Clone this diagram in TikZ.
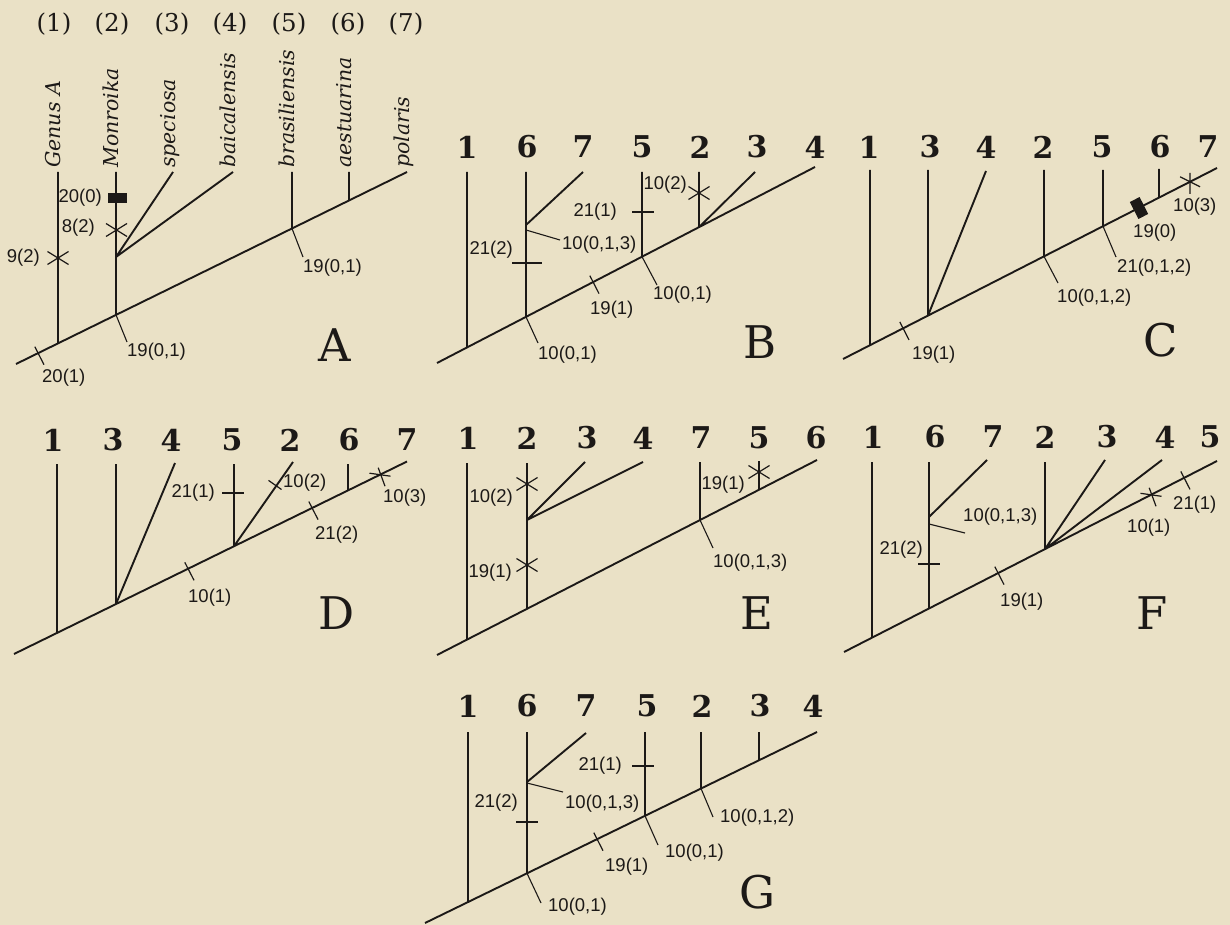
\documentclass[tikz,border=0pt]{standalone}
\usepackage{fontspec}
\usetikzlibrary{calc}
\newfontfamily\labsans{Liberation Sans}
\newfontfamily\dvserif{DejaVu Serif}
\definecolor{paper}{RGB}{234,225,198}
\definecolor{ink}{RGB}{28,25,23}
\newcommand\labfont{\labsans\fontsize{18.5}{18.5}\selectfont}
\newcommand\numfont{\dvserif\bfseries\fontsize{30}{30}\selectfont}
\newcommand\parfont{\dvserif\fontsize{24.5}{24.5}\selectfont}
\newcommand\taxfont{\dvserif\itshape\fontsize{20.5}{20.5}\selectfont}
\newcommand\panfont{\dvserif\fontsize{45}{45}\selectfont}
\tikzset{
  branch/.style={line width=1.9pt, draw=ink},
  markline/.style={line width=1.2pt, draw=ink},
  leader/.style={line width=1.1pt, draw=ink},
  lab/.style={font=\labfont, text=ink, inner sep=0pt},
  tipnum/.style={font=\numfont, text=ink, inner sep=0pt},
  parnum/.style={font=\parfont, text=ink, inner sep=0pt},
  taxon/.style={font=\taxfont, text=ink, inner sep=0pt, rotate=90, anchor=mid west},
  panlab/.style={font=\panfont, text=ink, inner sep=0pt},
  blockmark/.style={fill=ink, inner sep=0pt},
  xcross/.pic={\draw[markline] (-10.5,-6.5)--(10.5,6.5) (-10.5,6.5)--(10.5,-6.5);},
  ptick/.pic={\draw[markline] (-3.2,-6.5)--(6,11.5);},
  htick/.pic={\draw[markline] (-11,0)--(11,0);},
  basex/.pic={\draw[markline] (-10.5,-1.5)--(10.5,1.5) (-1.8,-7)--(5,11.5);},
}
\begin{document}
\begin{tikzpicture}[x=1pt,y=-1pt]
\fill[paper] (0,0) rectangle (1230,925);
\useasboundingbox (0,0) rectangle (1230,925);

% ---------------- Tree A ----------------
\coordinate (A-r) at (16,364);   \coordinate (A-e) at (407,172);
\coordinate (A1t) at (58,172);   \coordinate (A1f) at (58,343.4);
\coordinate (A2t) at (116,172);  \coordinate (A2f) at (116,314.9);
\coordinate (A2j) at (116,257);
\coordinate (A3t) at (173,172);  \coordinate (A4t) at (233,172);
\coordinate (A5t) at (292,172);  \coordinate (A5f) at (292,228.5);
\coordinate (A6t) at (349,172);  \coordinate (A6f) at (349,200.5);
\draw[branch] (A-r)--(A-e) (A1t)--(A1f) (A2t)--(A2f) (A2j)--(A3t)
  (A2j)--(A4t) (A5t)--(A5f) (A6t)--(A6f);
\foreach \n/\x in {1/54,2/112,3/172,4/230,5/289,6/348,7/406}
  \node[parnum] (Ah\n) at (\x,24) {(\n)};
\node[taxon] (Atx1) at (58,168) {Genus A};
\node[taxon] (Atx2) at (116,168) {Monroika};
\node[taxon] (Atx3) at (173,168) {speciosa};
\node[taxon] (Atx4) at (233,168) {baicalensis};
\node[taxon] (Atx5) at (292,168) {brasiliensis};
\node[taxon] (Atx6) at (349,168) {aestuarina};
\node[taxon] (Atx7) at (407,168) {polaris};
\node[blockmark, minimum width=19pt, minimum height=10pt] (Ablk) at (117,198) {};
\pic at (116.5,230) {xcross};
\pic at (58,258) {xcross};
\pic at (38,353.2) {ptick};
\node[lab, anchor=east] (Al1) at (102,198) {20(0)};
\node[lab, anchor=east] (Al2) at (95,228) {8(2)};
\node[lab, anchor=east] (Al3) at (40,258) {9(2)};
\node[lab, anchor=west] (Al4) at (42,378) {20(1)};
\node[lab, anchor=west] (Al5) at (127,352) {19(0,1)};
\node[lab, anchor=west] (Al6) at (303,268) {19(0,1)};
\coordinate (Ald1) at (127,342); \coordinate (Ald2) at (303,257);
\draw[leader] (A2f)--(Ald1) (A5f)--(Ald2);
\node[panlab] (Alab) at (335,345) {A};

% ---------------- Tree B ----------------
\coordinate (B-r) at (437,363);  \coordinate (B-e) at (815,167);
\coordinate (B1t) at (467,172);  \coordinate (B1f) at (467,347.4);
\coordinate (B6t) at (526,172);  \coordinate (B6f) at (526,316.9);
\coordinate (B6j) at (526,225);  \coordinate (B7t) at (583,172);
\coordinate (B5t) at (642,172);  \coordinate (B5f) at (642,256.7);
\coordinate (B2t) at (699,172);  \coordinate (B2f) at (699,227.2);
\coordinate (B3t) at (755,172);
\draw[branch] (B-r)--(B-e) (B1t)--(B1f) (B6t)--(B6f) (B6j)--(B7t)
  (B5t)--(B5f) (B2t)--(B2f) (B2f)--(B3t);
\foreach \n/\t/\x in {1/1/467,2/6/527,3/7/583,4/5/642,5/2/700,6/3/757,7/4/815}
  \node[tipnum] (Bh\n) at (\x,147) {\t};
\draw[markline] (512,263)--(542,263);
\pic at (643,212) {htick};
\pic at (699,193) {xcross};
\pic at (593,282.1) {ptick};
\node[lab, anchor=east] (Bl1) at (513,250) {21(2)};
\node[lab, anchor=west] (Bl2) at (562,245) {10(0,1,3)};
\node[lab, anchor=east] (Bl3) at (617,212) {21(1)};
\node[lab, anchor=east] (Bl4) at (687,185) {10(2)};
\node[lab, anchor=west] (Bl5) at (590,310) {19(1)};
\node[lab, anchor=west] (Bl6) at (653,295) {10(0,1)};
\node[lab, anchor=west] (Bl7) at (538,355) {10(0,1)};
\coordinate (Bld0) at (526,230);
\coordinate (Bld1) at (560,240); \coordinate (Bld2) at (657,285);
\coordinate (Bld3) at (538,343);
\draw[leader] (Bld0)--(Bld1) (B5f)--(Bld2) (B6f)--(Bld3);
\node[panlab] (Blab) at (760,342) {B};

% ---------------- Tree C ----------------
\coordinate (C-r) at (843,359);  \coordinate (C-e) at (1217,168);
\coordinate (C1t) at (870,170);  \coordinate (C1f) at (870,345.2);
\coordinate (C3t) at (928,170);  \coordinate (C3f) at (928,315.6);
\coordinate (C4t) at (986,171);
\coordinate (C2t) at (1044,170); \coordinate (C2f) at (1044,256.4);
\coordinate (C5t) at (1103,170); \coordinate (C5f) at (1103,226.2);
\coordinate (C6t) at (1159,169); \coordinate (C6f) at (1159,197.6);
\draw[branch] (C-r)--(C-e) (C1t)--(C1f) (C3t)--(C3f) (C3f)--(C4t)
  (C2t)--(C2f) (C5t)--(C5f) (C6t)--(C6f);
\foreach \n/\t/\x in {1/1/869,2/3/930,3/4/986,4/2/1043,5/5/1102,6/6/1160,7/7/1208}
  \node[tipnum] (Ch\n) at (\x,147) {\t};
\pic at (903,328.4) {ptick};
\node[blockmark, minimum width=11pt, minimum height=19pt, rotate=27] (Cblk) at (1139,208) {};
\draw[markline] (1190,173)--(1190,194) (1180,176.8)--(1200,186.8);
\node[lab, anchor=west] (Cl1) at (912,355) {19(1)};
\node[lab, anchor=west] (Cl2) at (1057,298) {10(0,1,2)};
\node[lab, anchor=west] (Cl3) at (1117,268) {21(0,1,2)};
\node[lab, anchor=west] (Cl4) at (1133,233) {19(0)};
\node[lab, anchor=west] (Cl5) at (1173,207) {10(3)};
\coordinate (Cld1) at (1058,283); \coordinate (Cld2) at (1116,257);
\draw[leader] (C2f)--(Cld1) (C5f)--(Cld2);
\node[panlab] (Clab) at (1161,340) {C};

% ---------------- Tree D ----------------
\coordinate (D-r) at (14,654);   \coordinate (D-e) at (407,461.5);
\coordinate (D1t) at (57,464);   \coordinate (D1f) at (57,632.9);
\coordinate (D3t) at (116,464);  \coordinate (D3f) at (116,604);
\coordinate (D4t) at (175,463);
\coordinate (D5t) at (234,464);  \coordinate (D5f) at (234,546.2);
\coordinate (D2t) at (293,462);
\coordinate (D6t) at (348,464);  \coordinate (D6f) at (348,490.4);
\draw[branch] (D-r)--(D-e) (D1t)--(D1f) (D3t)--(D3f) (D3f)--(D4t)
  (D5t)--(D5f) (D5f)--(D2t) (D6t)--(D6f);
\foreach \n/\t/\x in {1/1/53,2/3/113,3/4/171,4/5/232,5/2/290,6/6/349,7/7/407}
  \node[tipnum] (Dh\n) at (\x,440) {\t};
\pic at (233,493) {htick};
\draw[markline] (268.5,480.4)--(281.5,489.5);
\pic at (312,508) {ptick};
\pic at (380,474.7) {basex};
\pic at (188,568.8) {ptick};
\node[lab, anchor=east] (Dl1) at (215,493) {21(1)};
\node[lab, anchor=west] (Dl2) at (283,483) {10(2)};
\node[lab, anchor=west] (Dl3) at (315,535) {21(2)};
\node[lab, anchor=west] (Dl4) at (383,498) {10(3)};
\node[lab, anchor=west] (Dl5) at (188,598) {10(1)};
\node[panlab] (Dlab) at (337,613) {D};

% ---------------- Tree E ----------------
\coordinate (E-r) at (437,655);  \coordinate (E-e) at (817,460);
\coordinate (E1t) at (467,463);  \coordinate (E1f) at (467,639.6);
\coordinate (E2t) at (527,463);  \coordinate (E2f) at (527,608.8);
\coordinate (E2j) at (527,520);
\coordinate (E3t) at (585,462);  \coordinate (E4t) at (643,462);
\coordinate (E7t) at (700,462);  \coordinate (E7f) at (700,520);
\coordinate (E5t) at (759,461);  \coordinate (E5f) at (759,489.8);
\draw[branch] (E-r)--(E-e) (E1t)--(E1f) (E2t)--(E2f) (E2j)--(E3t)
  (E2j)--(E4t) (E7t)--(E7f) (E5t)--(E5f);
\foreach \n/\t/\x in {1/1/468,2/2/527,3/3/587,4/4/643,5/7/701,6/5/759,7/6/816}
  \node[tipnum] (Eh\n) at (\x,438) {\t};
\pic at (527,484) {xcross};
\pic at (527,565) {xcross};
\pic at (759,472) {xcross};
\node[lab, anchor=east] (El1) at (513,498) {10(2)};
\node[lab, anchor=east] (El2) at (512,573) {19(1)};
\node[lab, anchor=east] (El3) at (745,485) {19(1)};
\node[lab, anchor=west] (El4) at (713,563) {10(0,1,3)};
\coordinate (Eld1) at (713,548);
\draw[leader] (E7f)--(Eld1);
\node[panlab] (Elab) at (757,613) {E};

% ---------------- Tree F ----------------
\coordinate (F-r) at (844,652);  \coordinate (F-e) at (1217,461);
\coordinate (F1t) at (872,462);  \coordinate (F1f) at (872,637.7);
\coordinate (F6t) at (929,462);  \coordinate (F6f) at (929,608.5);
\coordinate (F6j) at (929,517);  \coordinate (F7t) at (987,460);
\coordinate (F2t) at (1045,462); \coordinate (F2f) at (1045,549.1);
\coordinate (F3t) at (1105,460); \coordinate (F4t) at (1162,460);
\draw[branch] (F-r)--(F-e) (F1t)--(F1f) (F6t)--(F6f) (F6j)--(F7t)
  (F2t)--(F2f) (F2f)--(F3t) (F2f)--(F4t);
\foreach \n/\t/\x in {1/1/873,2/6/935,3/7/993,4/2/1045,5/3/1107,6/4/1165,7/5/1210}
  \node[tipnum] (Fh\n) at (\x,437) {\t};
\pic at (929,564) {htick};
\pic at (998,573.1) {ptick};
\pic at (1151,494.8) {basex};
\pic at (1184,477.9) {ptick};
\node[lab, anchor=west] (Fl1) at (963,517) {10(0,1,3)};
\node[lab, anchor=east] (Fl2) at (923,550) {21(2)};
\node[lab, anchor=west] (Fl3) at (1000,602) {19(1)};
\node[lab, anchor=west] (Fl4) at (1127,528) {10(1)};
\node[lab, anchor=west] (Fl5) at (1173,505) {21(1)};
\coordinate (Fld0) at (929,524); \coordinate (Fld1) at (965,533);
\draw[leader] (Fld0)--(Fld1);
\node[panlab] (Flab) at (1152,613) {F};

% ---------------- Tree G ----------------
\coordinate (G-r) at (425,923);  \coordinate (G-e) at (817,732);
\coordinate (G1t) at (468,732);  \coordinate (G1f) at (468,902.1);
\coordinate (G6t) at (527,732);  \coordinate (G6f) at (527,873.3);
\coordinate (G6j) at (527,782);  \coordinate (G7t) at (586,733);
\coordinate (G5t) at (645,732);  \coordinate (G5f) at (645,815.8);
\coordinate (G2t) at (701,732);  \coordinate (G2f) at (701,788.5);
\coordinate (G3t) at (759,732);  \coordinate (G3f) at (759,760.3);
\draw[branch] (G-r)--(G-e) (G1t)--(G1f) (G6t)--(G6f) (G6j)--(G7t)
  (G5t)--(G5f) (G2t)--(G2f) (G3t)--(G3f);
\foreach \n/\t/\x in {1/1/468,2/6/527,3/7/586,4/5/647,5/2/702,6/3/760,7/4/813}
  \node[tipnum] (Gh\n) at (\x,706) {\t};
\pic at (643,766) {htick};
\pic at (527,822) {htick};
\pic at (597,839.2) {ptick};
\node[lab, anchor=east] (Gl1) at (622,766) {21(1)};
\node[lab, anchor=east] (Gl2) at (518,803) {21(2)};
\node[lab, anchor=west] (Gl3) at (565,804) {10(0,1,3)};
\node[lab, anchor=west] (Gl4) at (605,867) {19(1)};
\node[lab, anchor=west] (Gl5) at (665,853) {10(0,1)};
\node[lab, anchor=west] (Gl6) at (720,818) {10(0,1,2)};
\node[lab, anchor=west] (Gl7) at (548,907) {10(0,1)};
\coordinate (Gld0) at (527,783); \coordinate (Gld1) at (563,792);
\coordinate (Gld2) at (658,845); \coordinate (Gld3) at (713,817);
\coordinate (Gld4) at (541,903);
\draw[leader] (Gld0)--(Gld1) (G5f)--(Gld2) (G2f)--(Gld3) (G6f)--(Gld4);
\node[panlab] (Glab) at (757,892) {G};
\end{tikzpicture}
\end{document}
